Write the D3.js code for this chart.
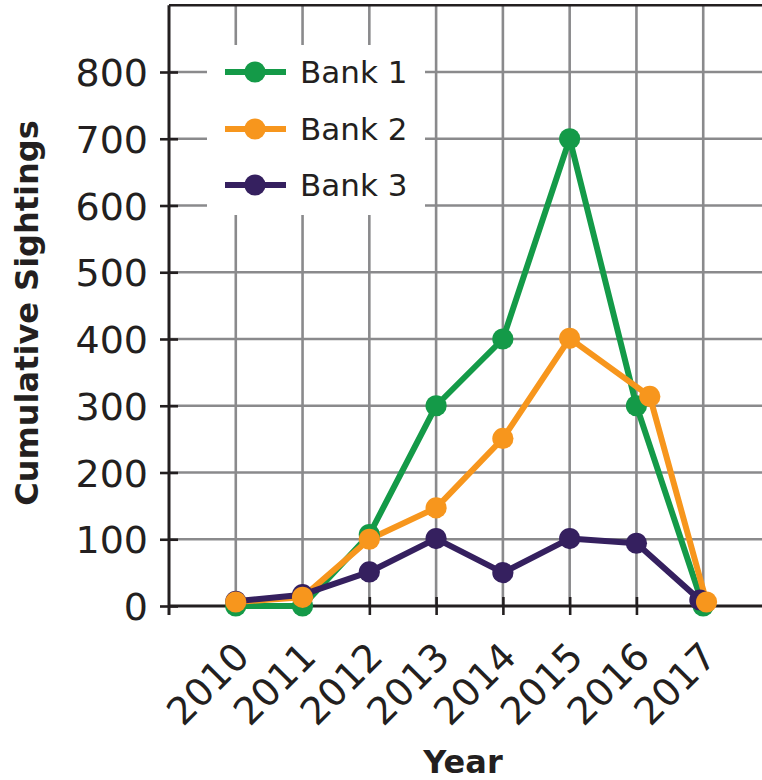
<!DOCTYPE html>
<html>
<head>
<meta charset="utf-8">
<script src="https://cdn.jsdelivr.net/npm/d3@7"></script>
<style>
  html, body { margin: 0; padding: 0; background: #fff; }
  svg { display: block; }
  text { font-family: "DejaVu Sans", Verdana, sans-serif; fill: #231f20; }
</style>
</head>
<body>
<svg id="chart" width="762" height="780"></svg>
<script>
// Year ticks and value ticks
const years = [2010, 2011, 2012, 2013, 2014, 2015, 2016, 2017];
const valueTicks = [0, 100, 200, 300, 400, 500, 600, 700, 800];

// Series: x positions (year) and cumulative sightings
const bank1X = [2010, 2011, 2012, 2013, 2014, 2015, 2016, 2017];
const bank1Y = [0, 0, 107, 300, 400, 700, 300, 0];
const bank2X = [2010, 2011, 2012, 2013, 2014, 2015, 2016.2, 2017.05];
const bank2Y = [6, 13, 100, 147, 251, 401, 314, 6];
const bank3X = [2010, 2011, 2012, 2013, 2014, 2015, 2016, 2016.95];
const bank3Y = [7, 17, 51, 101, 50, 101, 94, 9];

const seriesNames = ["Bank 1", "Bank 2", "Bank 3"];
const seriesColors = ["#149a48", "#f7961d", "#35205f"];

const series = [
  { name: seriesNames[0], color: seriesColors[0], pts: bank1X.map((x, i) => [x, bank1Y[i]]) },
  { name: seriesNames[1], color: seriesColors[1], pts: bank2X.map((x, i) => [x, bank2Y[i]]) },
  { name: seriesNames[2], color: seriesColors[2], pts: bank3X.map((x, i) => [x, bank3Y[i]]) }
];

const svg = d3.select("#chart");
const x = d3.scaleLinear().domain([2009, 2018]).range([169, 770]);
const y = d3.scaleLinear().domain([0, 900]).range([606, 5.25]);

const gridColor = "#8a8a8c";
const axisColor = "#231f20";

// Grid
const grid = svg.append("g");
grid.selectAll("line.v").data(years.concat([2018])).join("line")
  .attr("x1", d => x(d)).attr("x2", d => x(d))
  .attr("y1", y(900)).attr("y2", y(0))
  .attr("stroke", gridColor).attr("stroke-width", 2.6);
grid.selectAll("line.h").data(valueTicks.slice(1)).join("line")
  .attr("x1", x(2009)).attr("x2", 762)
  .attr("y1", d => y(d)).attr("y2", d => y(d))
  .attr("stroke", gridColor).attr("stroke-width", 2.6);

// Top edge of the plot frame
svg.append("line").attr("x1", x(2009)).attr("x2", 762).attr("y1", y(900)).attr("y2", y(900))
  .attr("stroke", axisColor).attr("stroke-width", 2.6);

// Legend backing box hides the grid beneath it
svg.append("rect").attr("x", 207).attr("y", 45).attr("width", 218).attr("height", 170).attr("fill", "#fff");

// Y axis
const yAxis = d3.axisLeft(y).tickValues(valueTicks).tickSizeInner(9).tickSizeOuter(0).tickPadding(14);
const gy = svg.append("g").attr("transform", `translate(${x(2009)},0)`).call(yAxis);
gy.select(".domain").remove();
gy.selectAll(".tick line").attr("x2", -9).attr("x1", 9).attr("stroke", axisColor).attr("stroke-width", 2.6);
gy.selectAll(".tick text").attr("font-size", 38).attr("fill", axisColor).attr("font-family", "DejaVu Sans, Verdana, sans-serif")
  .attr("x", -21).attr("dy", "0.36em");
svg.append("line").attr("x1", x(2009)).attr("x2", x(2009)).attr("y1", y(900)).attr("y2", y(0) + 9)
  .attr("stroke", axisColor).attr("stroke-width", 3);

// X axis
const xAxis = d3.axisBottom(x).tickValues(years).tickSizeInner(9).tickSizeOuter(0).tickFormat(d3.format("d"));
const gx = svg.append("g").attr("transform", `translate(0,${y(0)})`).call(xAxis);
gx.select(".domain").remove();
gx.selectAll(".tick line").attr("y1", -9).attr("y2", 9).attr("stroke", axisColor).attr("stroke-width", 2.6);
gx.selectAll(".tick text")
  .attr("font-size", 38).attr("fill", axisColor).attr("font-family", "DejaVu Sans, Verdana, sans-serif")
  .attr("text-anchor", "end").attr("dy", 0).attr("y", 0)
  .attr("transform", "translate(15,53) rotate(-45)");
svg.append("line").attr("x1", x(2009)).attr("x2", 762).attr("y1", y(0)).attr("y2", y(0))
  .attr("stroke", axisColor).attr("stroke-width", 3);

// Axis titles
svg.append("text").attr("transform", "translate(38,313) rotate(-90)")
  .attr("text-anchor", "middle").attr("font-size", 32).attr("font-weight", "bold")
  .text("Cumulative Sightings");
svg.append("text").attr("x", 463).attr("y", 773)
  .attr("text-anchor", "middle").attr("font-size", 32).attr("font-weight", "bold")
  .text("Year");

// Lines
const line = d3.line().x(d => x(d[0])).y(d => y(d[1]));
svg.append("g").selectAll("path").data(series).join("path")
  .attr("d", d => line(d.pts)).attr("fill", "none")
  .attr("stroke", d => d.color).attr("stroke-width", 6).attr("stroke-linejoin", "round");

// Markers: green, then purple, then orange on top
const markerOrder = [series[0], series[2], series[1]];
markerOrder.forEach(s => {
  svg.append("g").selectAll("circle").data(s.pts).join("circle")
    .attr("cx", d => x(d[0])).attr("cy", d => y(d[1])).attr("r", 10.6)
    .attr("fill", s.color);
});

// Legend
const lg = svg.append("g");
const legendY = [72, 129, 185];
series.forEach((s, i) => {
  const g = lg.append("g").attr("transform", `translate(0,${legendY[i]})`);
  g.append("line").attr("x1", 225).attr("x2", 286).attr("y1", 0).attr("y2", 0)
    .attr("stroke", s.color).attr("stroke-width", 6);
  g.append("circle").attr("cx", 255).attr("cy", 0).attr("r", 10.6).attr("fill", s.color);
  g.append("text").attr("x", 300).attr("y", 0).attr("dy", "0.36em").attr("font-size", 31).text(s.name);
});
</script>
</body>
</html>
